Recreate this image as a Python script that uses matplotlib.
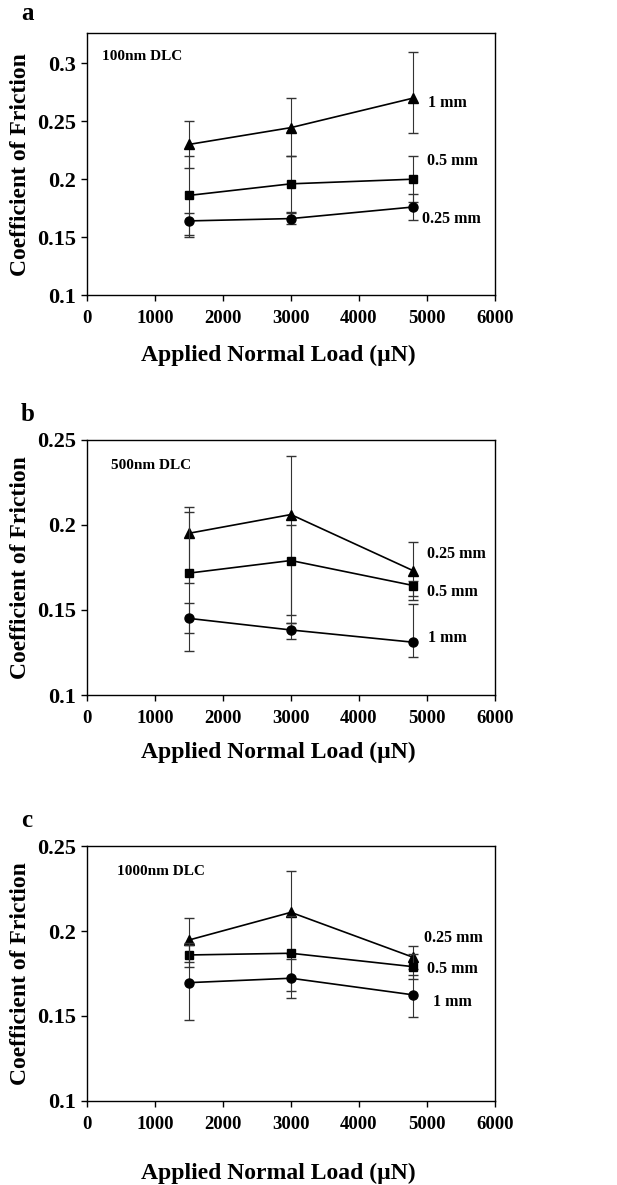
import matplotlib.pyplot as plt

plt.rcParams['font.family'] = ['Liberation Serif', 'DejaVu Serif']
plt.rcParams['font.weight'] = 'bold'

loads = [1500, 3000, 4800]

# panel a - 100nm DLC
a_1mm = [0.230, 0.2445, 0.270]
a_1mm_lo = [0.210, 0.220, 0.240]
a_1mm_hi = [0.250, 0.270, 0.310]
a_05mm = [0.186, 0.196, 0.200]
a_05mm_lo = [0.152, 0.172, 0.180]
a_05mm_hi = [0.220, 0.220, 0.220]
a_025mm = [0.164, 0.166, 0.176]
a_025mm_lo = [0.150, 0.161, 0.165]
a_025mm_hi = [0.1705, 0.171, 0.187]

# panel b - 500nm DLC
b_025mm = [0.195, 0.206, 0.173]
b_025mm_lo = [0.166, 0.147, 0.156]
b_025mm_hi = [0.2102, 0.2406, 0.190]
b_05mm = [0.1716, 0.179, 0.1643]
b_05mm_lo = [0.126, 0.1422, 0.1582]
b_05mm_hi = [0.2072, 0.200, 0.1667]
b_1mm = [0.145, 0.1382, 0.131]
b_1mm_lo = [0.1363, 0.1327, 0.1222]
b_1mm_hi = [0.1543, 0.1422, 0.1533]

# panel c - 1000nm DLC
c_025mm = [0.1947, 0.211, 0.1845]
c_025mm_lo = [0.182, 0.1867, 0.1776]
c_025mm_hi = [0.2075, 0.2353, 0.1914]
c_05mm = [0.1859, 0.1869, 0.179]
c_05mm_lo = [0.1786, 0.1649, 0.1716]
c_05mm_hi = [0.193, 0.209, 0.1864]
c_1mm = [0.1696, 0.1722, 0.1624]
c_1mm_lo = [0.1476, 0.1608, 0.1496]
c_1mm_hi = [0.1916, 0.1836, 0.1741]

xticks = [0, 1000, 2000, 3000, 4000, 5000, 6000]

panels = [
    dict(letter='a', film='100nm DLC', rect=[0.141, 0.751, 0.661, 0.221],
         ylim=(0.1, 0.326), yticks=[0.1, 0.15, 0.2, 0.25, 0.3],
         film_pos=(220, 0.3058), xlab_y=-0.23, letter_y=0.989,
         series=[('1 mm', '^', a_1mm, a_1mm_lo, a_1mm_hi, (5309, 0.2655)),
                 ('0.5 mm', 's', a_05mm, a_05mm_lo, a_05mm_hi, (5382, 0.2157)),
                 ('0.25 mm', 'o', a_025mm, a_025mm_lo, a_025mm_hi, (5368, 0.166))]),
    dict(letter='b', film='500nm DLC', rect=[0.141, 0.4135, 0.661, 0.2155],
         ylim=(0.1, 0.25), yticks=[0.1, 0.15, 0.2, 0.25],
         film_pos=(353, 0.235), xlab_y=-0.225, letter_y=0.650,
         series=[('0.25 mm', '^', b_025mm, b_025mm_lo, b_025mm_hi, (5441, 0.183)),
                 ('0.5 mm', 's', b_05mm, b_05mm_lo, b_05mm_hi, (5382, 0.1606)),
                 ('1 mm', 'o', b_1mm, b_1mm_lo, b_1mm_hi, (5309, 0.1337))]),
    dict(letter='c', film='1000nm DLC', rect=[0.141, 0.071, 0.661, 0.215],
         ylim=(0.1, 0.25), yticks=[0.1, 0.15, 0.2, 0.25],
         film_pos=(441, 0.2349), xlab_y=-0.285, letter_y=0.308,
         series=[('0.25 mm', '^', c_025mm, c_025mm_lo, c_025mm_hi, (5397, 0.196)),
                 ('0.5 mm', 's', c_05mm, c_05mm_lo, c_05mm_hi, (5382, 0.1774)),
                 ('1 mm', 'o', c_1mm, c_1mm_lo, c_1mm_hi, (5382, 0.1583))]),
]

fig = plt.figure(figsize=(6.17, 11.85), dpi=100)

for p in panels:
    ax = fig.add_axes(p['rect'])
    for name, mk, vals, lo, hi, lab in p['series']:
        err = [[v - l for v, l in zip(vals, lo)], [h - v for v, h in zip(vals, hi)]]
        ax.errorbar(loads, vals, yerr=err, fmt='none', ecolor='#333333',
                    elinewidth=0.8, capsize=3.5, capthick=1.0)
        ms = 6 if mk == 's' else 6.5
        ax.plot(loads, vals, '-', marker=mk, color='black', lw=1.2, ms=ms)
        ax.text(lab[0], lab[1], name, ha='center', va='center',
                fontsize=11.5, fontweight='bold')
    ax.text(p['film_pos'][0], p['film_pos'][1], p['film'], ha='left',
            va='center', fontsize=11, fontweight='bold')
    ax.set_xlim(0, 6000)
    ax.set_ylim(*p['ylim'])
    ax.set_xticks(xticks)
    ax.set_yticks(p['yticks'])
    ax.set_yticklabels([f'{v:g}' for v in p['yticks']])
    ax.tick_params(axis='both', direction='out', length=4, width=1)
    ax.tick_params(axis='y', labelsize=16, pad=4)
    ax.tick_params(axis='x', labelsize=13.5, pad=7)
    for s in ax.spines.values():
        s.set_linewidth(1.0)
    ax.set_ylabel('Coefficient of Friction', fontsize=17, fontweight='bold')
    ax.yaxis.set_label_coords(-0.137, 0.5)
    ax.set_xlabel('Applied Normal Load (\u00b5N)', fontsize=17, fontweight='bold')
    ax.xaxis.set_label_coords(0.47, p['xlab_y'])
    ax.xaxis.label.set_va('center')
    fig.text(0.044, p['letter_y'], p['letter'], fontsize=18, fontweight='bold',
             ha='center', va='center')

fig.savefig('out.png', dpi=100)
